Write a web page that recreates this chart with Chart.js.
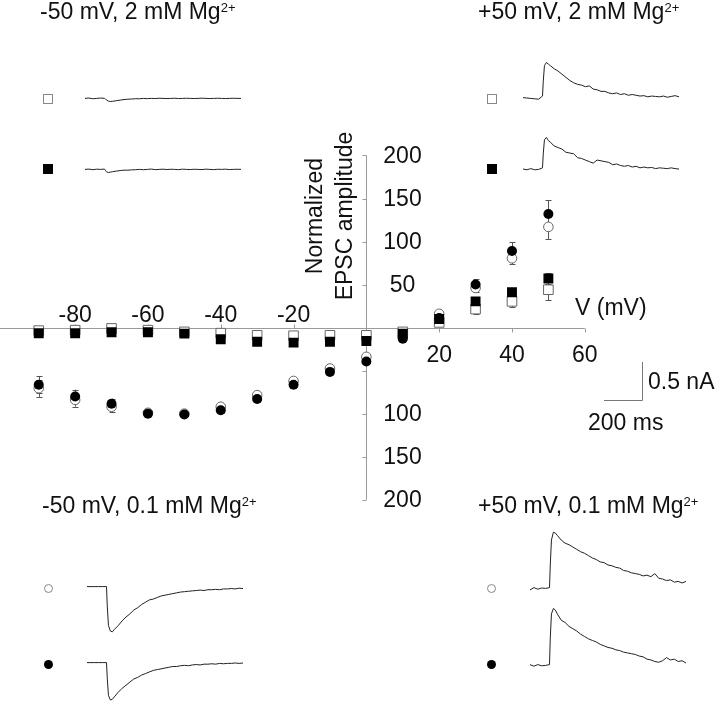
<!DOCTYPE html>
<html>
<head>
<meta charset="utf-8">
<script src="https://cdn.jsdelivr.net/npm/chart.js@4.4.0/dist/chart.umd.min.js"></script>
<style>
    html, body { margin: 0; padding: 0; background: #fff; }
    #wrap { position: relative; width: 720px; height: 705px; overflow: hidden; font-family: "Liberation Sans", Arial, sans-serif; color: #111; }
    #wrap canvas { position: absolute; }
    .title { position: absolute; font-size: 23px; line-height: 26px; white-space: nowrap; }
    .title sup { font-size: 13px; position: relative; top: -3px; vertical-align: top; }
    .mk { position: absolute; box-sizing: border-box; }
    .sq { width: 10px; height: 10px; }
    .ci { width: 9px; height: 9px; border-radius: 50%; }
    .open { border: 1px solid #888; background: #fff; }
    .fill { background: #000; }
</style>
</head>
<body>
<div id="wrap">
    <canvas id="iv" width="720" height="705" style="left:0;top:0"></canvas>

    <div class="title" style="left:40px;top:-2px">-50 mV, 2 mM Mg<sup>2+</sup></div>
    <div class="title" style="left:478px;top:-2px">+50 mV, 2 mM Mg<sup>2+</sup></div>
    <div class="title" style="left:42px;top:492px">-50 mV, 0.1 mM Mg<sup>2+</sup></div>
    <div class="title" style="left:478px;top:492px">+50 mV, 0.1 mM Mg<sup>2+</sup></div>

    <div class="mk sq open" style="left:43px;top:94px"></div>
    <div class="mk sq fill" style="left:43px;top:164px"></div>
    <div class="mk sq open" style="left:487px;top:94px"></div>
    <div class="mk sq fill" style="left:487px;top:164px"></div>
    <div class="mk ci open" style="left:44px;top:584px"></div>
    <div class="mk ci fill" style="left:44px;top:660px"></div>
    <div class="mk ci open" style="left:487px;top:584px"></div>
    <div class="mk ci fill" style="left:487px;top:660px"></div>

    <canvas id="tlOpen" width="156" height="78" style="left:85px;top:36px"></canvas>
    <canvas id="tlFilled" width="156" height="78" style="left:85px;top:107px"></canvas>
    <canvas id="trOpen" width="156" height="78" style="left:523px;top:36px"></canvas>
    <canvas id="trFilled" width="156" height="78" style="left:523px;top:107px"></canvas>
    <canvas id="blOpen" width="156" height="78" style="left:87px;top:571px"></canvas>
    <canvas id="blFilled" width="156" height="78" style="left:87px;top:647px"></canvas>
    <canvas id="brOpen" width="156" height="78" style="left:530px;top:526px"></canvas>
    <canvas id="brFilled" width="156" height="78" style="left:530px;top:603px"></canvas>
</div>
<script>
// 膜电位 (mV)
const voltages = [-90, -80, -70, -60, -50, -40, -30, -20, -10, 0, 10, 20, 30, 40, 50];

// 2 mM Mg: 实心方块 / 空心方块
const filledSquare = [-6.5, -6.5, -5.5, -5.5, -7, -13.5, -16.5, -17.5, -16.5, -15.5, -7, 10, 30.5, 41, 57];
const filledSquareErr = [2, 2, 2, 2, 2, 3, 3, 3, 3, 3, 2, 3, 5, 5, 6];
const openSquare = [-3.5, -3, -1, -3, -5, -6.5, -9, -9.5, -9, -9, -5, 6, 21.5, 30.5, 44];
const openSquareErr = [2, 2, 2, 2, 2, 3, 3, 3, 3, 3, 2, 3, 6, 7, 12];

// 0.1 mM Mg: 实心圆 / 空心圆
const filledCircle = [-66.5, -80, -88.5, -100, -101, -96, -83, -66.5, -51.5, -39.5, -13, 11, 50, 89, 132];
const filledCircleErr = [10, 8, 6, 2, 2, 3, 3, 3, 2, 2, 2, 3, 6, 10, 16];
const openCircle = [-70.5, -84, -92, -99, -100, -92, -78.5, -62, -47.5, -34, -11, 16, 46, 80.5, 117];
const openCircleErr = [10, 8, 6, 2, 2, 3, 3, 3, 3, 3, 2, 4, 5, 7, 14];

// 坐标刻度
const xTickValues = [-80, -60, -40, -20, 20, 40, 60];
const yTickValues = [200, 150, 100, 50, -50, -100, -150, -200];
const yTickLabels = ['200', '150', '100', '50', '', '100', '150', '200'];

// 电流记录 (ms, nA)
const traceTime = [0, 20, 40, 60, 80, 100, 104, 110, 120, 130, 140,
    160, 180, 200, 220, 240, 260, 280, 300, 320, 340, 360, 380, 400, 420, 440, 460, 480,
    500, 520, 540, 560, 580, 600, 620, 640, 660, 680, 700, 720, 740, 760, 780, 800];
const tlOpenTrace = [0, 0.005, -0.005, 0, 0.005, 0, -0.005, -0.02, -0.035, -0.04, -0.038,
    -0.03, -0.022, -0.015, -0.01, -0.008, -0.004, -0.005, 0, -0.003, 0, -0.002, 0.002, 0, -0.002, 0, 0.002, -0.002,
    0, 0.002, 0, -0.002, 0, 0.003, 0, -0.002, 0, 0.002, 0, -0.002, 0, 0.002, 0, 0];
const tlFilledTrace = [0, 0.004, -0.004, 0.003, 0, 0.004, -0.01, -0.03, -0.04, -0.035, -0.03,
    -0.022, -0.015, -0.01, -0.01, -0.006, -0.004, 0, -0.004, 0, 0.004, -0.003, 0, 0.003, -0.002, 0.002, 0, -0.003,
    0.003, 0, -0.002, 0.002, 0, -0.002, 0.003, 0, -0.003, 0.002, 0, 0.003, -0.002, 0, 0.002, 0];
const trOpenTrace = [0.01, 0.005, 0, -0.005, -0.01, 0.03, 0.22, 0.42, 0.46, 0.44, 0.42,
    0.38, 0.35, 0.31, 0.27, 0.23, 0.2, 0.18, 0.17, 0.15, 0.16, 0.12, 0.11, 0.09, 0.09, 0.07, 0.06, 0.07,
    0.05, 0.06, 0.04, 0.05, 0.04, 0.03, 0.035, 0.02, 0.03, 0.025, 0.02, 0.03, 0.015, 0.025, 0.035, 0.02];
const trFilledTrace = [0.005, -0.005, 0.01, -0.005, 0, 0.02, 0.2, 0.38, 0.41, 0.37, 0.35,
    0.3, 0.28, 0.26, 0.22, 0.21, 0.2, 0.15, 0.14, 0.12, 0.1, 0.08, 0.12, 0.11, 0.1, 0.09, 0.06, 0.07,
    0.05, 0.04, 0.05, 0.03, 0.04, 0.02, 0.03, 0.02, 0.025, 0.01, 0.02, 0.015, 0.01, 0.02, 0.01, 0.005];
const blOpenTrace = [0, 0, 0, 0, 0, 0, -0.25, -0.5, -0.57, -0.58, -0.55,
    -0.5, -0.44, -0.39, -0.35, -0.3, -0.27, -0.23, -0.2, -0.17, -0.16, -0.14, -0.12, -0.11, -0.1, -0.09, -0.08, -0.07,
    -0.065, -0.06, -0.055, -0.05, -0.045, -0.05, -0.04, -0.04, -0.035, -0.04, -0.03, -0.03, -0.025, -0.03, -0.02, -0.025];
const blFilledTrace = [0, 0, 0, 0, 0, 0, -0.2, -0.42, -0.48, -0.47, -0.44,
    -0.38, -0.33, -0.29, -0.25, -0.21, -0.19, -0.16, -0.14, -0.12, -0.1, -0.09, -0.08, -0.07, -0.06, -0.05, -0.05, -0.04,
    -0.035, -0.04, -0.03, -0.025, -0.03, -0.02, -0.02, -0.015, -0.02, -0.01, -0.015, -0.01, -0.01, -0.005, -0.01, -0.005];
const brOpenTrace = [-0.02, 0.01, -0.01, 0.005, 0, 0.01, 0.3, 0.62, 0.72, 0.71, 0.68,
    0.62, 0.58, 0.56, 0.53, 0.5, 0.47, 0.45, 0.42, 0.39, 0.37, 0.34, 0.33, 0.3, 0.29, 0.27, 0.26, 0.23,
    0.22, 0.2, 0.19, 0.18, 0.16, 0.17, 0.15, 0.19, 0.13, 0.12, 0.1, 0.11, 0.08, 0.09, 0.07, 0.09];
const brFilledTrace = [0.01, -0.01, 0.01, -0.005, 0, 0.01, 0.35, 0.66, 0.73, 0.71, 0.66,
    0.58, 0.55, 0.5, 0.47, 0.44, 0.4, 0.37, 0.34, 0.32, 0.3, 0.27, 0.25, 0.23, 0.22, 0.2, 0.19, 0.17,
    0.16, 0.15, 0.14, 0.12, 0.11, 0.08, 0.07, 0.05, 0.04, 0.06, 0.1, 0.07, 0.08, 0.05, 0.06, 0.03];

const FONT = '23px "Liberation Sans", Arial, sans-serif';
const AXIS_COLOR = '#9a9a9a';

const toPoints = (vals) => voltages.map((v, i) => ({ x: v, y: vals[i] }));

// 坐标轴、刻度、误差线和文字
const ivDecor = {
    id: 'ivDecor',
    beforeDatasetsDraw(chart) {
        const { ctx, scales: { x, y } } = chart;
        const x0 = Math.round(x.getPixelForValue(0)) + 0.5;
        const y0 = Math.round(y.getPixelForValue(0)) + 0.5;
        ctx.save();
        ctx.strokeStyle = AXIS_COLOR;
        ctx.lineWidth = 1;
        ctx.beginPath();
        ctx.moveTo(0, y0);
        ctx.lineTo(x.getPixelForValue(60), y0);
        ctx.moveTo(x0, y.getPixelForValue(200));
        ctx.lineTo(x0, y.getPixelForValue(-200));
        xTickValues.forEach((v) => {
            const px = Math.round(x.getPixelForValue(v)) + 0.5;
            ctx.moveTo(px, y0);
            ctx.lineTo(px, v < 0 ? y0 - 4 : y0 + 4);
        });
        yTickValues.forEach((v) => {
            const py = Math.round(y.getPixelForValue(v)) + 0.5;
            ctx.moveTo(x0, py);
            ctx.lineTo(x0 - 4, py);
        });
        ctx.stroke();

        // 误差线
        ctx.strokeStyle = '#555';
        chart.data.datasets.forEach((ds) => {
            ds.data.forEach((p, i) => {
                const e = ds.errors[i];
                const px = Math.round(x.getPixelForValue(p.x)) + 0.5;
                const top = y.getPixelForValue(p.y + e);
                const bot = y.getPixelForValue(p.y - e);
                ctx.beginPath();
                ctx.moveTo(px, top);
                ctx.lineTo(px, bot);
                ctx.moveTo(px - 3, Math.round(top) + 0.5);
                ctx.lineTo(px + 3, Math.round(top) + 0.5);
                ctx.moveTo(px - 3, Math.round(bot) + 0.5);
                ctx.lineTo(px + 3, Math.round(bot) + 0.5);
                ctx.stroke();
            });
        });

        // 刻度文字
        ctx.fillStyle = '#111';
        ctx.font = FONT;
        ctx.textAlign = 'center';
        ctx.textBaseline = 'alphabetic';
        xTickValues.forEach((v) => {
            ctx.fillText(String(v), x.getPixelForValue(v), v < 0 ? y0 - 7 : y0 + 33);
        });
        ctx.textBaseline = 'middle';
        yTickValues.forEach((v, i) => {
            ctx.fillText(yTickLabels[i], x0 + 36, y.getPixelForValue(v) + 1);
        });

        // 轴标题
        ctx.textAlign = 'left';
        ctx.fillText('V (mV)', 575, 309);
        ctx.save();
        ctx.translate(316, 216);
        ctx.rotate(-Math.PI / 2);
        ctx.textAlign = 'center';
        ctx.fillText('Normalized', 0, 0);
        ctx.fillText('EPSC amplitude', 0, 30);
        ctx.restore();

        // 比例尺
        ctx.strokeStyle = '#777';
        ctx.beginPath();
        ctx.moveTo(642.5, 362);
        ctx.lineTo(642.5, 400.5);
        ctx.lineTo(604, 400.5);
        ctx.stroke();
        ctx.textAlign = 'left';
        ctx.fillText('0.5 nA', 648, 383);
        ctx.fillText('200 ms', 588, 424);
        ctx.restore();
    }
};

new Chart(document.getElementById('iv'), {
    type: 'scatter',
    data: {
        datasets: [
            { label: 'filled circle', data: toPoints(filledCircle), errors: filledCircleErr, pointStyle: 'circle', pointRadius: 5, backgroundColor: '#000', borderColor: '#000', borderWidth: 0, order: 0 },
            { label: 'filled square', data: toPoints(filledSquare), errors: filledSquareErr, pointStyle: 'rect', pointRadius: 7, backgroundColor: '#000', borderColor: '#000', borderWidth: 0, order: 0 },
            { label: 'open circle', data: toPoints(openCircle), errors: openCircleErr, pointStyle: 'circle', pointRadius: 4.8, backgroundColor: '#fff', borderColor: '#666', borderWidth: 1, order: 1 },
            { label: 'open square', data: toPoints(openSquare), errors: openSquareErr, pointStyle: 'rect', pointRadius: 6.8, backgroundColor: '#fff', borderColor: '#666', borderWidth: 1, order: 1 }
        ]
    },
    options: {
        responsive: false,
        animation: false,
        events: [],
        layout: { padding: 0 },
        plugins: { legend: { display: false }, tooltip: { enabled: false } },
        scales: {
            x: { type: 'linear', display: false, min: -98.5, max: 95 },
            y: { type: 'linear', display: false, min: -429.5, max: 371.6 }
        }
    },
    plugins: [ivDecor]
});

// 小图: 电流记录
function traceChart(id, values, yMin, yMax) {
    new Chart(document.getElementById(id), {
        type: 'line',
        data: {
            datasets: [{
                data: traceTime.map((t, i) => ({ x: t, y: values[i] })),
                borderColor: '#222',
                borderWidth: 1,
                pointRadius: 0,
                tension: 0
            }]
        },
        options: {
            responsive: false,
            animation: false,
            events: [],
            layout: { padding: 0 },
            plugins: { legend: { display: false }, tooltip: { enabled: false } },
            scales: {
                x: { type: 'linear', display: false, min: 0, max: 800 },
                y: { type: 'linear', display: false, min: yMin, max: yMax }
            }
        }
    });
}

traceChart('tlOpen', tlOpenTrace, -0.2, 0.8);
traceChart('tlFilled', tlFilledTrace, -0.2, 0.8);
traceChart('trOpen', trOpenTrace, -0.2, 0.8);
traceChart('trFilled', trFilledTrace, -0.2, 0.8);
traceChart('blOpen', blOpenTrace, -0.8, 0.2);
traceChart('blFilled', blFilledTrace, -0.8, 0.2);
traceChart('brOpen', brOpenTrace, -0.2, 0.8);
traceChart('brFilled', brFilledTrace, -0.2, 0.8);
</script>
</body>
</html>
